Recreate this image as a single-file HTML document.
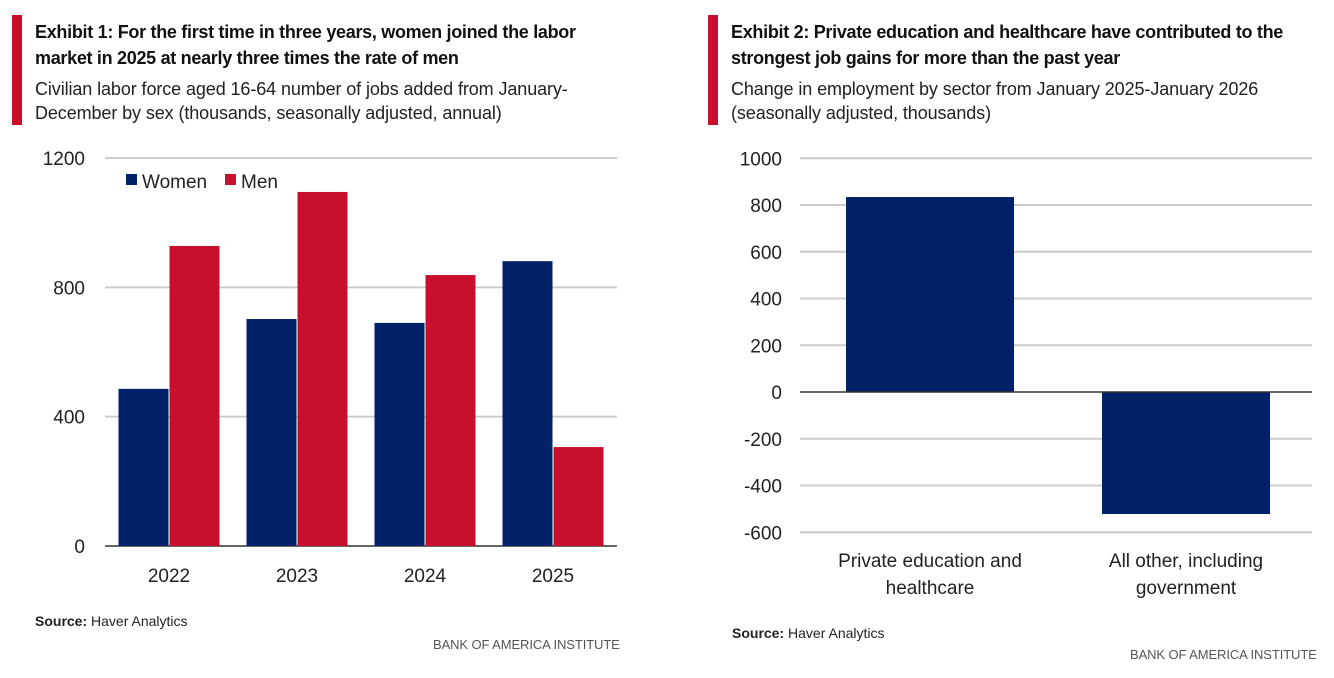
<!DOCTYPE html>
<html><head><meta charset="utf-8"><style>
body{margin:0;width:1334px;height:678px;background:#fff;font-family:"Liberation Sans",sans-serif;color:#222;position:relative;overflow:hidden}
.acc{position:absolute;width:10px;background:#c8102e}
.t{position:absolute;font-weight:bold;font-size:18px;letter-spacing:-0.3px;line-height:26px;color:#111;white-space:nowrap}
.s{position:absolute;font-size:18px;letter-spacing:-0.1px;line-height:24px;color:#222;white-space:nowrap}
.src{position:absolute;font-size:14px}
.boa{position:absolute;font-size:13px;color:#555;letter-spacing:-0.1px}
svg{position:absolute;left:0;top:0}
</style></head><body>
<div class="acc" style="left:12px;top:15px;height:110px"></div>
<div class="t" style="left:35px;top:19px">Exhibit 1: For the first time in three years, women joined the labor<br>market in 2025 at nearly three times the rate of men</div>
<div class="s" style="left:35px;top:77px">Civilian labor force aged 16-64 number of jobs added from January-<br>December by sex (thousands, seasonally adjusted, annual)</div>
<div class="src" style="left:35px;top:613px"><b>Source:</b> Haver Analytics</div>
<div class="boa" style="left:433px;top:637px">BANK OF AMERICA INSTITUTE</div>
<div class="acc" style="left:708px;top:15px;height:110px"></div>
<div class="t" style="left:731px;top:19px">Exhibit 2: Private education and healthcare have contributed to the<br>strongest job gains for more than the past year</div>
<div class="s" style="left:731px;top:77px">Change in employment by sector from January 2025-January 2026<br>(seasonally adjusted, thousands)</div>
<div class="src" style="left:732px;top:625px"><b>Source:</b> Haver Analytics</div>
<div class="boa" style="left:1130px;top:647px">BANK OF AMERICA INSTITUTE</div>
<svg id="c" width="1334" height="678"></svg>
<script>
const years=["2022","2023","2024","2025"];
const women=[486,702,690,881];
const men=[928,1095,838,306];
const ticks1=[0,400,800,1200];
const sectors=[["Private education and","healthcare"],["All other, including","government"]];
const change=[834,-522];
const ticks2=[1000,800,600,400,200,0,-200,-400,-600];
const NS="http://www.w3.org/2000/svg";
const svg=document.getElementById('c');
function mk(tag,a,txt){const e=document.createElementNS(NS,tag);for(const k in a)e.setAttribute(k,a[k]);if(txt!=null)e.textContent=txt;svg.appendChild(e);return e;}
const F='"Liberation Sans",sans-serif';
const y1=v=>546-v*(388/1200);
const x1L=105,x1R=617,gw=(x1R-x1L)/4;
ticks1.forEach(t=>{
 const g=mk('line',{x1:x1L,x2:x1R,y1:y1(t),y2:y1(t),stroke:t===0?'#333':'#ccc','stroke-width':t===0?1.5:2});
 
 const l=mk('text',{x:85,y:y1(t)+7,'text-anchor':'end','font-size':19,'font-family':F,fill:'#222'},t);
 
});
years.forEach((yr,i)=>{
 const cx=x1L+gw*i+gw/2;
 const bw=gw*50/128;
 const r1=mk('rect',{x:cx-bw-0.5,y:y1(women[i]),width:bw,height:y1(0)-y1(women[i]),fill:'#012169'});
 
 const r2=mk('rect',{x:cx+0.5,y:y1(men[i]),width:bw,height:y1(0)-y1(men[i]),fill:'#c8102e'});
 
 const l=mk('text',{x:cx,y:582,'text-anchor':'middle','font-size':19,'font-family':F,fill:'#222'},yr);
 
});
let e;
e=mk('rect',{x:126,y:174,width:11,height:11,fill:'#012169'});
e=mk('text',{x:142,y:188,'font-size':19,'font-family':F,fill:'#222'},'Women');
e=mk('rect',{x:225,y:174,width:11,height:11,fill:'#c8102e'});
e=mk('text',{x:241,y:188,'font-size':19,'font-family':F,fill:'#222'},'Men');
const y2=v=>392-v*(374/1600);
const x2L=800,x2R=1312,gw2=(x2R-x2L)/2;
ticks2.forEach(t=>{
 if(t!==0){const g=mk('line',{x1:x2L,x2:x2R,y1:y2(t),y2:y2(t),stroke:'#ccc','stroke-width':2});
 }
 const l=mk('text',{x:782,y:y2(t)+7,'text-anchor':'end','font-size':19,'font-family':F,fill:'#222'},t);
 
});
sectors.forEach((s,i)=>{
 const cx=x2L+gw2*i+gw2/2+2;const bw=168;const v=change[i];
 const r=mk('rect',{x:cx-bw/2,y:Math.min(y2(v),y2(0)),width:bw,height:Math.abs(y2(v)-y2(0)),fill:'#012169'});
 
 s.forEach((ln,j)=>{const l=mk('text',{x:cx,y:567+j*27,'text-anchor':'middle','font-size':19,'font-family':F,fill:'#222'},ln);
 });
});
e=mk('line',{x1:x2L,x2:x2R,y1:y2(0),y2:y2(0),stroke:'#333','stroke-width':1.5});
</script>
</body></html>
